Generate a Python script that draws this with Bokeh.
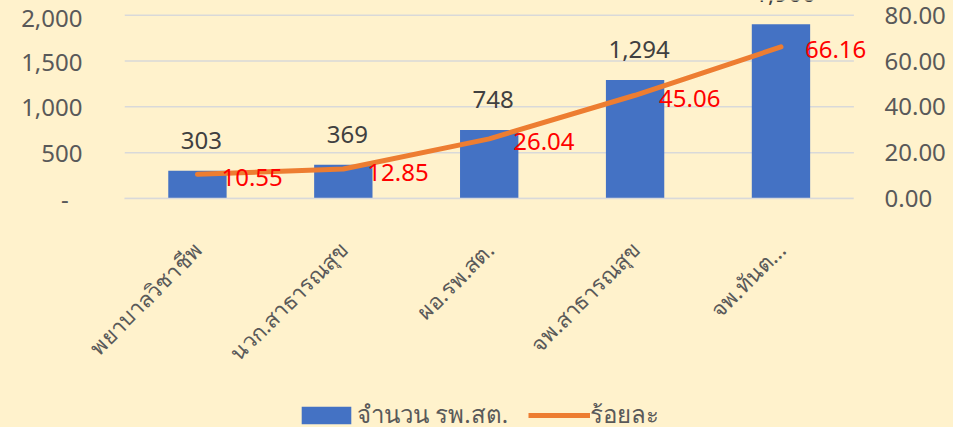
from bokeh.plotting import figure
from bokeh.models import (Range1d, LinearAxis, FixedTicker, NumeralTickFormatter,
                          Legend, LegendItem, ColumnDataSource, LabelSet)
from bokeh.layouts import column
from bokeh.core.properties import value
from bokeh.embed import file_html
from bokeh.resources import INLINE
import math

categories = ["พยาบาลวิชาชีพ", "นวก.สาธารณสุข", "ผอ.รพ.สต.", "จพ.สาธารณสุข", "จพ.ทันต..."]
counts = [303, 369, 748, 1294, 1900]
percents = [10.55, 12.85, 26.04, 45.06, 66.16]
left_ticks = [0, 500, 1000, 1500, 2000]
right_ticks = [0, 20, 40, 60, 80]
series_names = ["จำนวน รพ.สต.", "ร้อยละ"]

BG = "#FFF2CC"
GRID = "#D9D9D9"
TXT = "#595959"
BAR = "#4472C4"
LINE = "#ED7D31"
FONT = "Noto Sans"

W = 953
H_MAIN = 391
H_LEG = 36
px_per_unit = 0.09165
frame_h = 198
y_end = frame_h / px_per_unit
pct_end = y_end * 80 / 2000

n = len(categories)
xpos = [i + 0.5 for i in range(n)]
x_end = n + 0.1  # a little room on the right for the last label

src = ColumnDataSource(dict(
    x=xpos, cnt=counts, pct=percents,
    cnt_lbl=[f"{c:,}" for c in counts],
    pct_lbl=[f"{v:.2f}" for v in percents],
))

p = figure(x_range=Range1d(0, x_end), y_range=Range1d(0, y_end), width=W, height=H_MAIN,
           output_backend="svg", toolbar_location=None,
           min_border_top=0, min_border_left=124, min_border_right=85,
           min_border_bottom=H_MAIN - frame_h)
p.extra_y_ranges = {"pct": Range1d(0, pct_end)}

p.background_fill_color = BG
p.border_fill_color = BG
p.outline_line_color = None

# horizontal gridlines spanning only the category area
p.xgrid.visible = False
p.ygrid.visible = False
p.segment(x0=[0] * len(left_ticks), x1=[n] * len(left_ticks), y0=left_ticks, y1=left_ticks,
          line_color=GRID, line_width=1.5)

p.vbar(x="x", top="cnt", width=0.4, source=src, fill_color=BAR, line_color=None)
p.line(x="x", y="pct", source=src, y_range_name="pct",
       line_color=LINE, line_width=5, line_cap="round", line_join="round")

cnt_labels = LabelSet(x="x", y="cnt", text="cnt_lbl", source=src, text_align="center",
                      text_baseline="alphabetic", x_offset=4, y_offset=22,
                      text_color="#404040", text_font=value(FONT), text_font_size="24px")
pct_labels = LabelSet(x="x", y="pct", text="pct_lbl", source=src, y_range_name="pct",
                      text_align="left", text_baseline="middle", x_offset=24, y_offset=-3,
                      text_color="#FF0000", text_font=value(FONT), text_font_size="24px")
p.add_layout(cnt_labels)
p.add_layout(pct_labels)

# left axis
ya = p.yaxis[0]
ya.ticker = FixedTicker(ticks=left_ticks)
ya.formatter = NumeralTickFormatter(format="0,0")
ya.major_label_overrides = {0: "-\u2007"}
ya.axis_line_color = None
ya.major_tick_line_color = None
ya.minor_tick_line_color = None
ya.major_label_standoff = 36
ya.major_label_text_color = TXT
ya.major_label_text_font = FONT
ya.major_label_text_font_size = "24px"

# right axis
ra = LinearAxis(y_range_name="pct", ticker=FixedTicker(ticks=right_ticks),
                formatter=NumeralTickFormatter(format="0.00"))
ra.axis_line_color = None
ra.major_tick_line_color = None
ra.minor_tick_line_color = None
ra.major_label_standoff = 10
ra.major_label_text_color = TXT
ra.major_label_text_font = FONT
ra.major_label_text_font_size = "24px"
p.add_layout(ra, "right")

# x axis (category names on the bar centres)
xa = p.xaxis[0]
xa.ticker = FixedTicker(ticks=xpos)
xa.major_label_overrides = {x: c for x, c in zip(xpos, categories)}
xa.bounds = (0, n)
xa.axis_line_color = GRID
xa.axis_line_width = 1.5
xa.major_tick_line_color = None
xa.minor_tick_line_color = None
xa.major_label_orientation = math.pi / 4
xa.major_label_standoff = 41
xa.major_label_text_color = TXT
xa.major_label_text_font = FONT
xa.major_label_text_font_size = "22px"

# legend strip (dummy renderers lie outside its visible range)
lg = figure(width=W, height=H_LEG, x_range=Range1d(0, 1), y_range=Range1d(0, 1),
            output_backend="svg", toolbar_location=None,
            x_axis_type=None, y_axis_type=None,
            min_border=0, min_border_left=0, min_border_right=0,
            min_border_top=0, min_border_bottom=0)
lg.background_fill_color = BG
lg.border_fill_color = BG
lg.outline_line_color = None
lg.grid.visible = False
r_bar = lg.vbar(x=[-5], top=[-5], width=0.4, fill_color=BAR, line_color=None)
r_line = lg.line(x=[-5, -4], y=[-5, -5], line_color=LINE, line_width=5, line_cap="butt")

legend = Legend(items=[LegendItem(label=series_names[0], renderers=[r_bar]),
                       LegendItem(label=series_names[1], renderers=[r_line])],
                location=(171, -7), orientation="horizontal")
legend.padding = 0
legend.margin = 0
legend.spacing = 20
legend.glyph_width = 62
legend.glyph_height = 22
legend.label_standoff = 0
legend.border_line_color = None
legend.background_fill_alpha = 0
legend.label_text_color = TXT
legend.label_text_font = FONT
legend.label_text_font_size = "24px"
lg.add_layout(legend)

layout = column(p, lg, spacing=0)
layout.styles = {"background-color": BG}

open("out.html", "w").write(file_html(layout, INLINE))
